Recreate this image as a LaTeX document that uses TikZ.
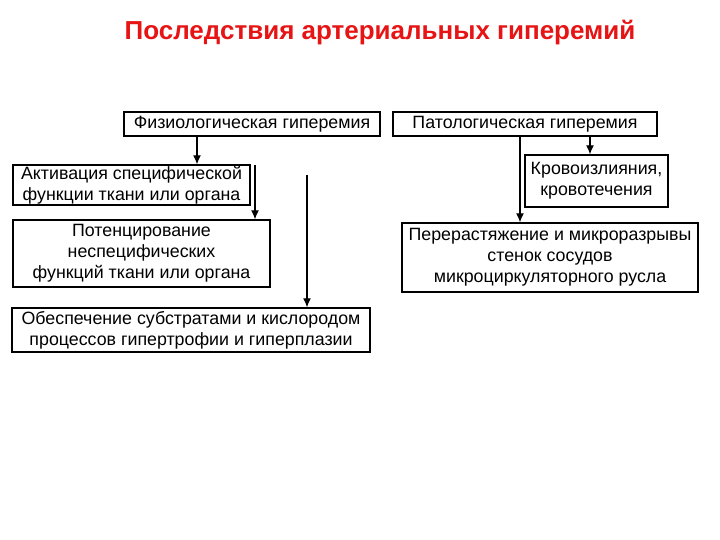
\documentclass[tikz,border=0pt]{standalone}
\usepackage{fontspec}
\setmainfont{Liberation Sans}
\usetikzlibrary{arrows.meta}

\newcommand{\txt}{\fontsize{17.8}{21}\selectfont}
\definecolor{titlered}{RGB}{230,20,20}

\tikzset{
  box/.style={draw, line width=1.4pt, inner sep=1pt, align=center, font=\txt},
  arr/.style={-{Latex[length=9pt,width=8pt]}, line width=1.2pt}
}

\begin{document}
\begin{tikzpicture}[x=1pt,y=-1pt]
  \useasboundingbox (0,0) rectangle (720,540);
  \node[font=\fontsize{26}{30}\selectfont\bfseries, text=titlered] (title) at (380,33) {Последствия артериальных гиперемий};

  % left column
  \node[box, minimum width=256, minimum height=24] (phys) at (252,124) {Физиологическая гиперемия};
  \node[box, minimum width=237, minimum height=40] (akt) at (131.5,185) {Активация специфической\\функции ткани или органа};
  \node[box, minimum width=257, minimum height=67] (pot) at (141.5,253.5) {Потенцирование\\неспецифических\\функций ткани или органа};
  \node[box, minimum width=358, minimum height=44] (obe) at (191,330) {Обеспечение субстратами и кислородом\\процессов гипертрофии и гиперплазии};

  % right column
  \node[box, minimum width=264, minimum height=24] (pat) at (525,124) {Патологическая гиперемия};
  \node[box, minimum width=143, minimum height=52] (krov) at (596.5,181) {Кровоизлияния,\\кровотечения};
  \node[box, minimum width=296, minimum height=69] (per) at (550,257.5) {Перерастяжение и микроразрывы\\стенок сосудов\\микроциркуляторного русла};

  \coordinate (xa) at (197,0);
  \coordinate (sb) at (255,165);
  \coordinate (sc) at (307,175);
  \coordinate (xd) at (520,0);
  \coordinate (xe) at (590,0);

  \draw[arr] (phys.south -| xa) -- (akt.north -| xa);
  \draw[arr] (sb) -- (pot.north -| sb);
  \draw[arr] (sc) -- (obe.north -| sc);
  \draw[arr] (pat.south -| xd) -- (per.north -| xd);
  \draw[arr] (pat.south -| xe) -- (krov.north -| xe);
\end{tikzpicture}
\end{document}
